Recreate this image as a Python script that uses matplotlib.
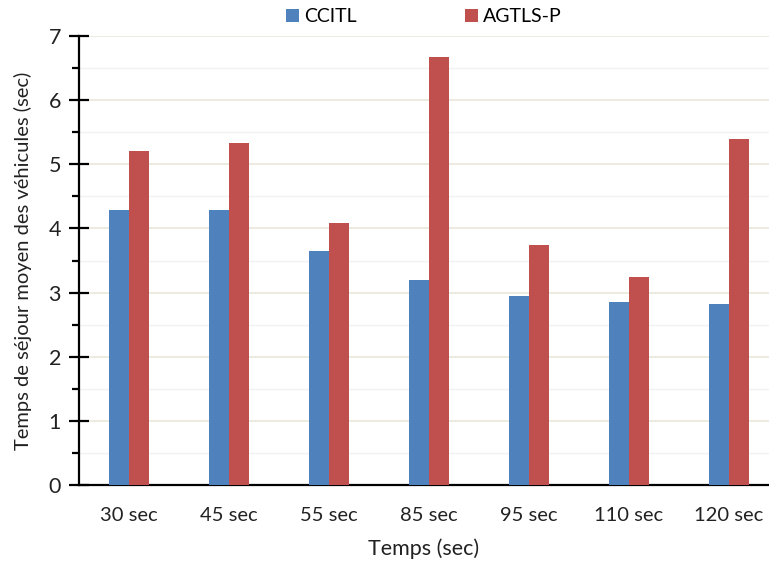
import numpy as np
import matplotlib.pyplot as plt
from matplotlib.ticker import MultipleLocator

plt.rcParams['font.family'] = ['Lato', 'DejaVu Sans']

# Data
categories = ['30 sec', '45 sec', '55 sec', '85 sec', '95 sec', '110 sec', '120 sec']
ccitl = [4.29, 4.29, 3.65, 3.20, 2.95, 2.85, 2.82]
agtls_p = [5.21, 5.33, 4.09, 6.67, 3.74, 3.24, 5.40]

blue = '#4F81BD'
red = '#C0504D'

fig = plt.figure(figsize=(7.69, 5.63), dpi=100)
ax = fig.add_axes([79/769, 1 - 485/563, 690/769, (485 - 36)/563])

x = np.arange(len(categories))
w = 0.2
ax.bar(x - w/2, ccitl, w, color=blue, label='CCITL', zorder=3)
ax.bar(x + w/2, agtls_p, w, color=red, label='AGTLS-P', zorder=3)

ax.set_xlim(-0.5, 6.4)
ax.set_ylim(0, 7)
ax.yaxis.set_major_locator(MultipleLocator(1))
ax.yaxis.set_minor_locator(MultipleLocator(0.5))
ax.grid(axis='y', which='major', color='#ECE9DC', linewidth=1.3, zorder=0)
ax.grid(axis='y', which='minor', color='#F2F2F2', linewidth=1.0, zorder=0)

ax.set_xticks(x)
ax.set_xticklabels(categories, fontsize=14.5, color='#222222')
ax.tick_params(axis='x', length=0, pad=16)
ax.tick_params(axis='y', which='major', length=14, width=1.6, direction='inout',
               labelsize=15.5, pad=6, labelcolor='#222222')
ax.tick_params(axis='y', which='minor', length=5, width=1.6, direction='out')

for s in ['top', 'right']:
    ax.spines[s].set_visible(False)
ax.spines['left'].set_linewidth(1.6)
ax.spines['bottom'].set_linewidth(1.6)

ax.set_xlabel('Temps (sec)', fontsize=15.5, labelpad=10, color='#222222')
ax.set_ylabel('Temps de séjour moyen des véhicules (sec)', fontsize=14.5, labelpad=12,
              color='#222222')

ax.legend(loc='lower center', bbox_to_anchor=(0.5, 1.0), ncol=2, frameon=False,
          fontsize=14, handlelength=0.65, handleheight=0.65, columnspacing=5.6, handletextpad=0.25,
          borderaxespad=0.15)

fig.savefig('out.png', dpi=100)
